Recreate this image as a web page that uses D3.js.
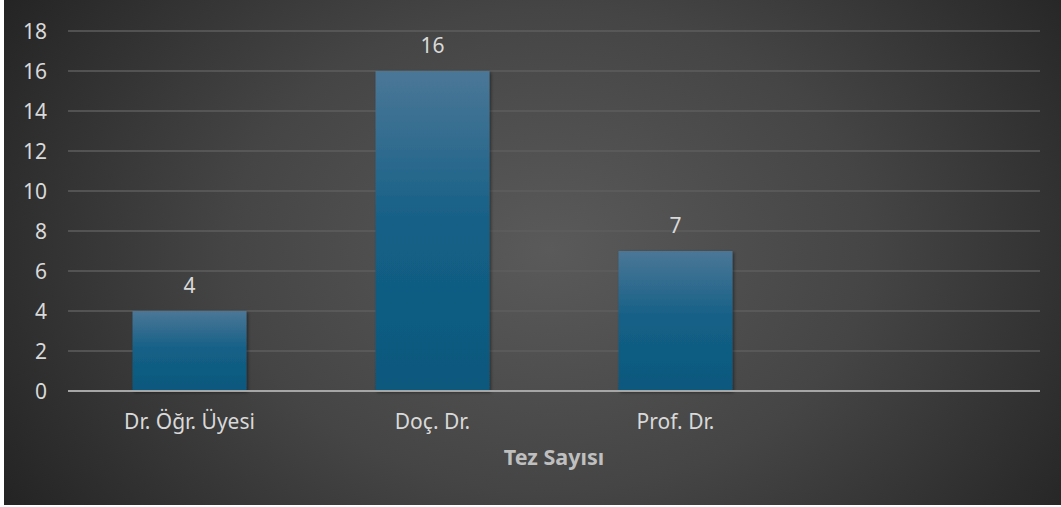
<!DOCTYPE html>
<html>
<head>
<meta charset="utf-8">
<script src="https://cdn.jsdelivr.net/npm/d3@7"></script>
<style>
  html, body { margin: 0; padding: 0; background: #ffffff; }
  svg { display: block; }
</style>
</head>
<body>
<svg id="chart" width="1061" height="507"></svg>
<script>
// Thesis counts by academic title
const categories = ["Dr. Öğr. Üyesi", "Doç. Dr.", "Prof. Dr.", ""];
const values = [4, 16, 7, null];
const yTicks = [0, 2, 4, 6, 8, 10, 12, 14, 16, 18];
const axisTitle = "Tez Sayısı";

const frame = { x: 4, y: 0, w: 1057, h: 505 };
const plot = { left: 68, right: 1040, top: 31, bottom: 391 };
const FONT = "'Noto Sans', 'Liberation Sans', sans-serif";

const svg = d3.select("#chart");
const defs = svg.append("defs");

// Dark radial backdrop
const bg = defs.append("radialGradient").attr("id", "bgGrad")
  .attr("gradientUnits", "userSpaceOnUse")
  .attr("cx", 550).attr("cy", 250).attr("r", 640)
  .attr("gradientTransform", "translate(550,250) scale(1,0.75) translate(-550,-250)");
bg.append("stop").attr("offset", "0%").attr("stop-color", "#5a5a5a");
bg.append("stop").attr("offset", "50%").attr("stop-color", "#454545");
bg.append("stop").attr("offset", "100%").attr("stop-color", "#242424");

// Bar fill: lighter steel blue at top fading to deep blue
const barGrad = defs.append("linearGradient").attr("id", "barGrad")
  .attr("x1", 0).attr("y1", 0).attr("x2", 0).attr("y2", 1);
barGrad.append("stop").attr("offset", "0%").attr("stop-color", "#4b7797");
barGrad.append("stop").attr("offset", "50%").attr("stop-color", "#135f86");
barGrad.append("stop").attr("offset", "100%").attr("stop-color", "#0d587d");

const shadow = defs.append("filter").attr("id", "barShadow")
  .attr("x", "-10%").attr("y", "-10%").attr("width", "130%").attr("height", "130%");
shadow.append("feDropShadow").attr("dx", 1.5).attr("dy", 1.5).attr("stdDeviation", 1.5)
  .attr("flood-color", "#000").attr("flood-opacity", 0.45);

svg.append("rect")
  .attr("x", frame.x).attr("y", frame.y).attr("width", frame.w).attr("height", frame.h)
  .attr("fill", "url(#bgGrad)");

const x = d3.scaleBand()
  .domain(categories)
  .range([plot.left, plot.right])
  .paddingInner(0.531)
  .paddingOuter(0.2655);

const y = d3.scaleLinear()
  .domain([0, 18])
  .range([plot.bottom, plot.top]);

// Horizontal gridlines
svg.append("g")
  .selectAll("line")
  .data(yTicks.filter(d => d > 0))
  .join("line")
  .attr("x1", plot.left).attr("x2", plot.right)
  .attr("y1", d => y(d)).attr("y2", d => y(d))
  .attr("stroke", "#5e5e5e").attr("stroke-width", 1.5);

// Y axis tick labels
const yAxis = d3.axisLeft(y).tickValues(yTicks).tickSize(0).tickPadding(0);
const gy = svg.append("g")
  .attr("transform", `translate(${plot.left - 21},0)`)
  .call(yAxis);
gy.select(".domain").remove();
gy.selectAll("text")
  .attr("fill", "#d9d9d9")
  .attr("dy", "0.36em")
  .style("font-family", FONT)
  .style("font-size", "21px");

// Bars
const data = categories.map((c, i) => ({ c, v: values[i] })).filter(d => d.v != null);
svg.append("g")
  .selectAll("rect")
  .data(data)
  .join("rect")
  .attr("x", d => x(d.c))
  .attr("y", d => y(d.v))
  .attr("width", x.bandwidth())
  .attr("height", d => y(0) - y(d.v))
  .attr("fill", "url(#barGrad)")
  .attr("filter", "url(#barShadow)");

// Value labels above bars
svg.append("g")
  .selectAll("text")
  .data(data)
  .join("text")
  .attr("x", d => x(d.c) + x.bandwidth() / 2)
  .attr("y", d => y(d.v) - 18)
  .attr("text-anchor", "middle")
  .attr("fill", "#d9d9d9")
  .style("font-family", FONT)
  .style("font-size", "21px")
  .text(d => d.v);

// Baseline and category labels
const xAxis = d3.axisBottom(x).tickSize(0).tickPadding(0);
const gx = svg.append("g")
  .attr("transform", `translate(0,${y(0)})`)
  .call(xAxis);
gx.select(".domain")
  .attr("d", `M${plot.left},0H${plot.right}`)
  .attr("stroke", "#a6a6a6").attr("stroke-width", 2);
gx.selectAll("text")
  .attr("y", 38)
  .attr("dy", 0)
  .attr("fill", "#d9d9d9")
  .style("font-family", FONT)
  .style("font-size", "21px");

// Axis title
svg.append("text")
  .attr("x", (plot.left + plot.right) / 2)
  .attr("y", 465)
  .attr("text-anchor", "middle")
  .attr("fill", "#bfbfbf")
  .style("font-family", FONT)
  .style("font-size", "21.5px")
  .style("font-weight", "bold")
  .text(axisTitle);
</script>
</body>
</html>
